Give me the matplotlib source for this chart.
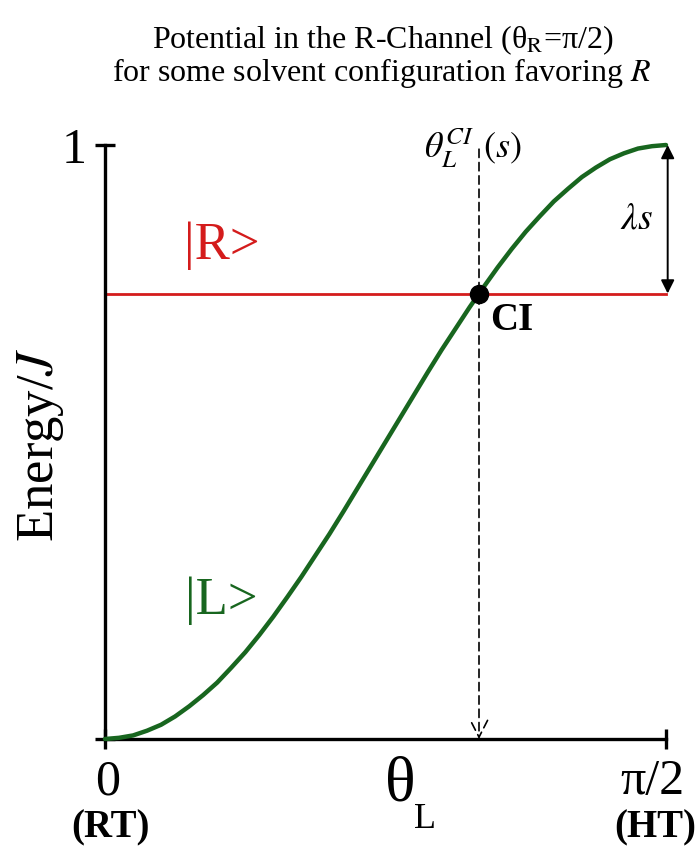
import numpy as np
import matplotlib
matplotlib.use("Agg")
import matplotlib.pyplot as plt

plt.rcParams['font.family'] = ['Liberation Serif', 'DejaVu Serif']
plt.rcParams['mathtext.fontset'] = 'stix'

# data (theta_L in units of pi/2, energy / J)
theta_frac = [0.000, 0.025, 0.050, 0.075, 0.100, 0.125, 0.150, 0.175, 0.200, 0.225,
              0.250, 0.275, 0.300, 0.325, 0.350, 0.375, 0.400, 0.425, 0.450, 0.475,
              0.500, 0.525, 0.550, 0.575, 0.600, 0.625, 0.650, 0.675, 0.700, 0.725,
              0.750, 0.775, 0.800, 0.825, 0.850, 0.875, 0.900, 0.925, 0.950, 0.975,
              1.000]
energy_L = [0.000, 0.002, 0.006, 0.014, 0.024, 0.038, 0.055, 0.074, 0.095, 0.120,
            0.146, 0.175, 0.206, 0.239, 0.273, 0.309, 0.345, 0.383, 0.422, 0.461,
            0.500, 0.539, 0.578, 0.617, 0.655, 0.691, 0.727, 0.761, 0.794, 0.825,
            0.854, 0.880, 0.905, 0.926, 0.946, 0.962, 0.976, 0.986, 0.994, 0.998,
            1.000]
energy_R = 0.75
theta_ci_frac = 2.0 / 3.0
x_ticks = [0.0, 1.0]
x_tick_labels = ["0", "π/2"]
x_tick_sub = ["(RT)", "(HT)"]

GREEN = '#18661f'
RED = '#d41c1c'

fig = plt.figure(figsize=(6.98, 8.5), dpi=100)
ax = fig.add_axes([105/698, 111/850, 561/698, 594/850])
HP = np.pi / 2

x = np.array(theta_frac) * HP
ax.plot(x, energy_L, color=GREEN, lw=3.2, solid_capstyle='round', zorder=3, clip_on=False)
ax.plot([0, HP], [energy_R, energy_R], color=RED, lw=2.0, zorder=2, clip_on=False)

xci = theta_ci_frac * HP
ax.plot([xci], [energy_R], 'o', color='black', ms=13, zorder=5, clip_on=False)

# dashed vertical line with arrow
ax.annotate('', xy=(xci, 0.0), xytext=(xci, 0.993),
            arrowprops=dict(arrowstyle='->,head_length=0.55,head_width=0.28',
                            linestyle=(0, (5, 3)), lw=1.2,
                            color='black', shrinkA=0, shrinkB=0,
                            mutation_scale=22), annotation_clip=False)

# lambda s double arrow
ax.annotate('', xy=(HP * 1.003, 1.0), xytext=(HP * 1.003, energy_R),
            arrowprops=dict(arrowstyle='<|-|>', lw=1.4, color='black',
                            shrinkA=0, shrinkB=0, mutation_scale=20),
            annotation_clip=False)
ax.text(HP * 0.948, 0.875, r'$\lambda s$', fontsize=27, ha='center', va='center')

ax.text(HP * (2/3 - 0.008), 0.995, r'$\theta_L^{CI}$', fontsize=26, ha='right', va='center')
ax.text(HP * (2/3 + 0.008), 0.995, r'$(s)$', fontsize=26, ha='left', va='center')
ax.text(xci + 0.03, 0.705, 'CI', fontsize=28, fontweight='bold', ha='left', va='center')

ax.text(HP * 0.208, 0.830, '|R>', color=RED, fontsize=38, ha='center', va='center')
ax.text(HP * 0.208, 0.232, '|L>', color=GREEN, fontsize=38, ha='center', va='center')

ax.set_xlim(0, HP)
ax.set_ylim(0, 1)
for s in ['top', 'right']:
    ax.spines[s].set_visible(False)
for s in ['left', 'bottom']:
    ax.spines[s].set_linewidth(2.4)

ax.set_yticks([0, 1])
ax.set_yticklabels(['', '1'], fontsize=36)
ax.set_xticks(np.array(x_ticks) * HP)
ax.set_xticklabels(['', ''])
ax.tick_params(axis='y', direction='inout', length=14, width=2.4, pad=6)
ax.tick_params(axis='x', direction='inout', length=14, width=2.4)

label_x = [0.004, 0.975]
sub_x = [0.010, 0.980]
for xv, sx, lab, sub in zip(label_x, sub_x, x_tick_labels, x_tick_sub):
    ax.text(xv * HP, -0.072, lab, fontsize=36, ha='center', va='center')
    ax.text(sx * HP, -0.150, sub, fontsize=28, fontweight='bold', ha='center', va='center')

ax.text(HP * 0.526, -0.079, 'θ', fontsize=46, ha='center', va='center')
ax.text(HP * 0.570, -0.136, 'L', fontsize=26, ha='center', va='center')

fig.text(40/698, 1 - 445/850, r'Energy/$J$', fontsize=38, rotation=90,
         ha='center', va='center')

fig.text(383/698, 1 - 40/850, 'Potential in the R-Channel (θ$_{\\mathrm{R}}$=π/2)',
         fontsize=23, ha='center', va='center')
fig.text(381/698, 1 - 73/850, r'for some solvent configuration favoring $R$',
         fontsize=23, ha='center', va='center')

fig.savefig('out.png', dpi=100)
